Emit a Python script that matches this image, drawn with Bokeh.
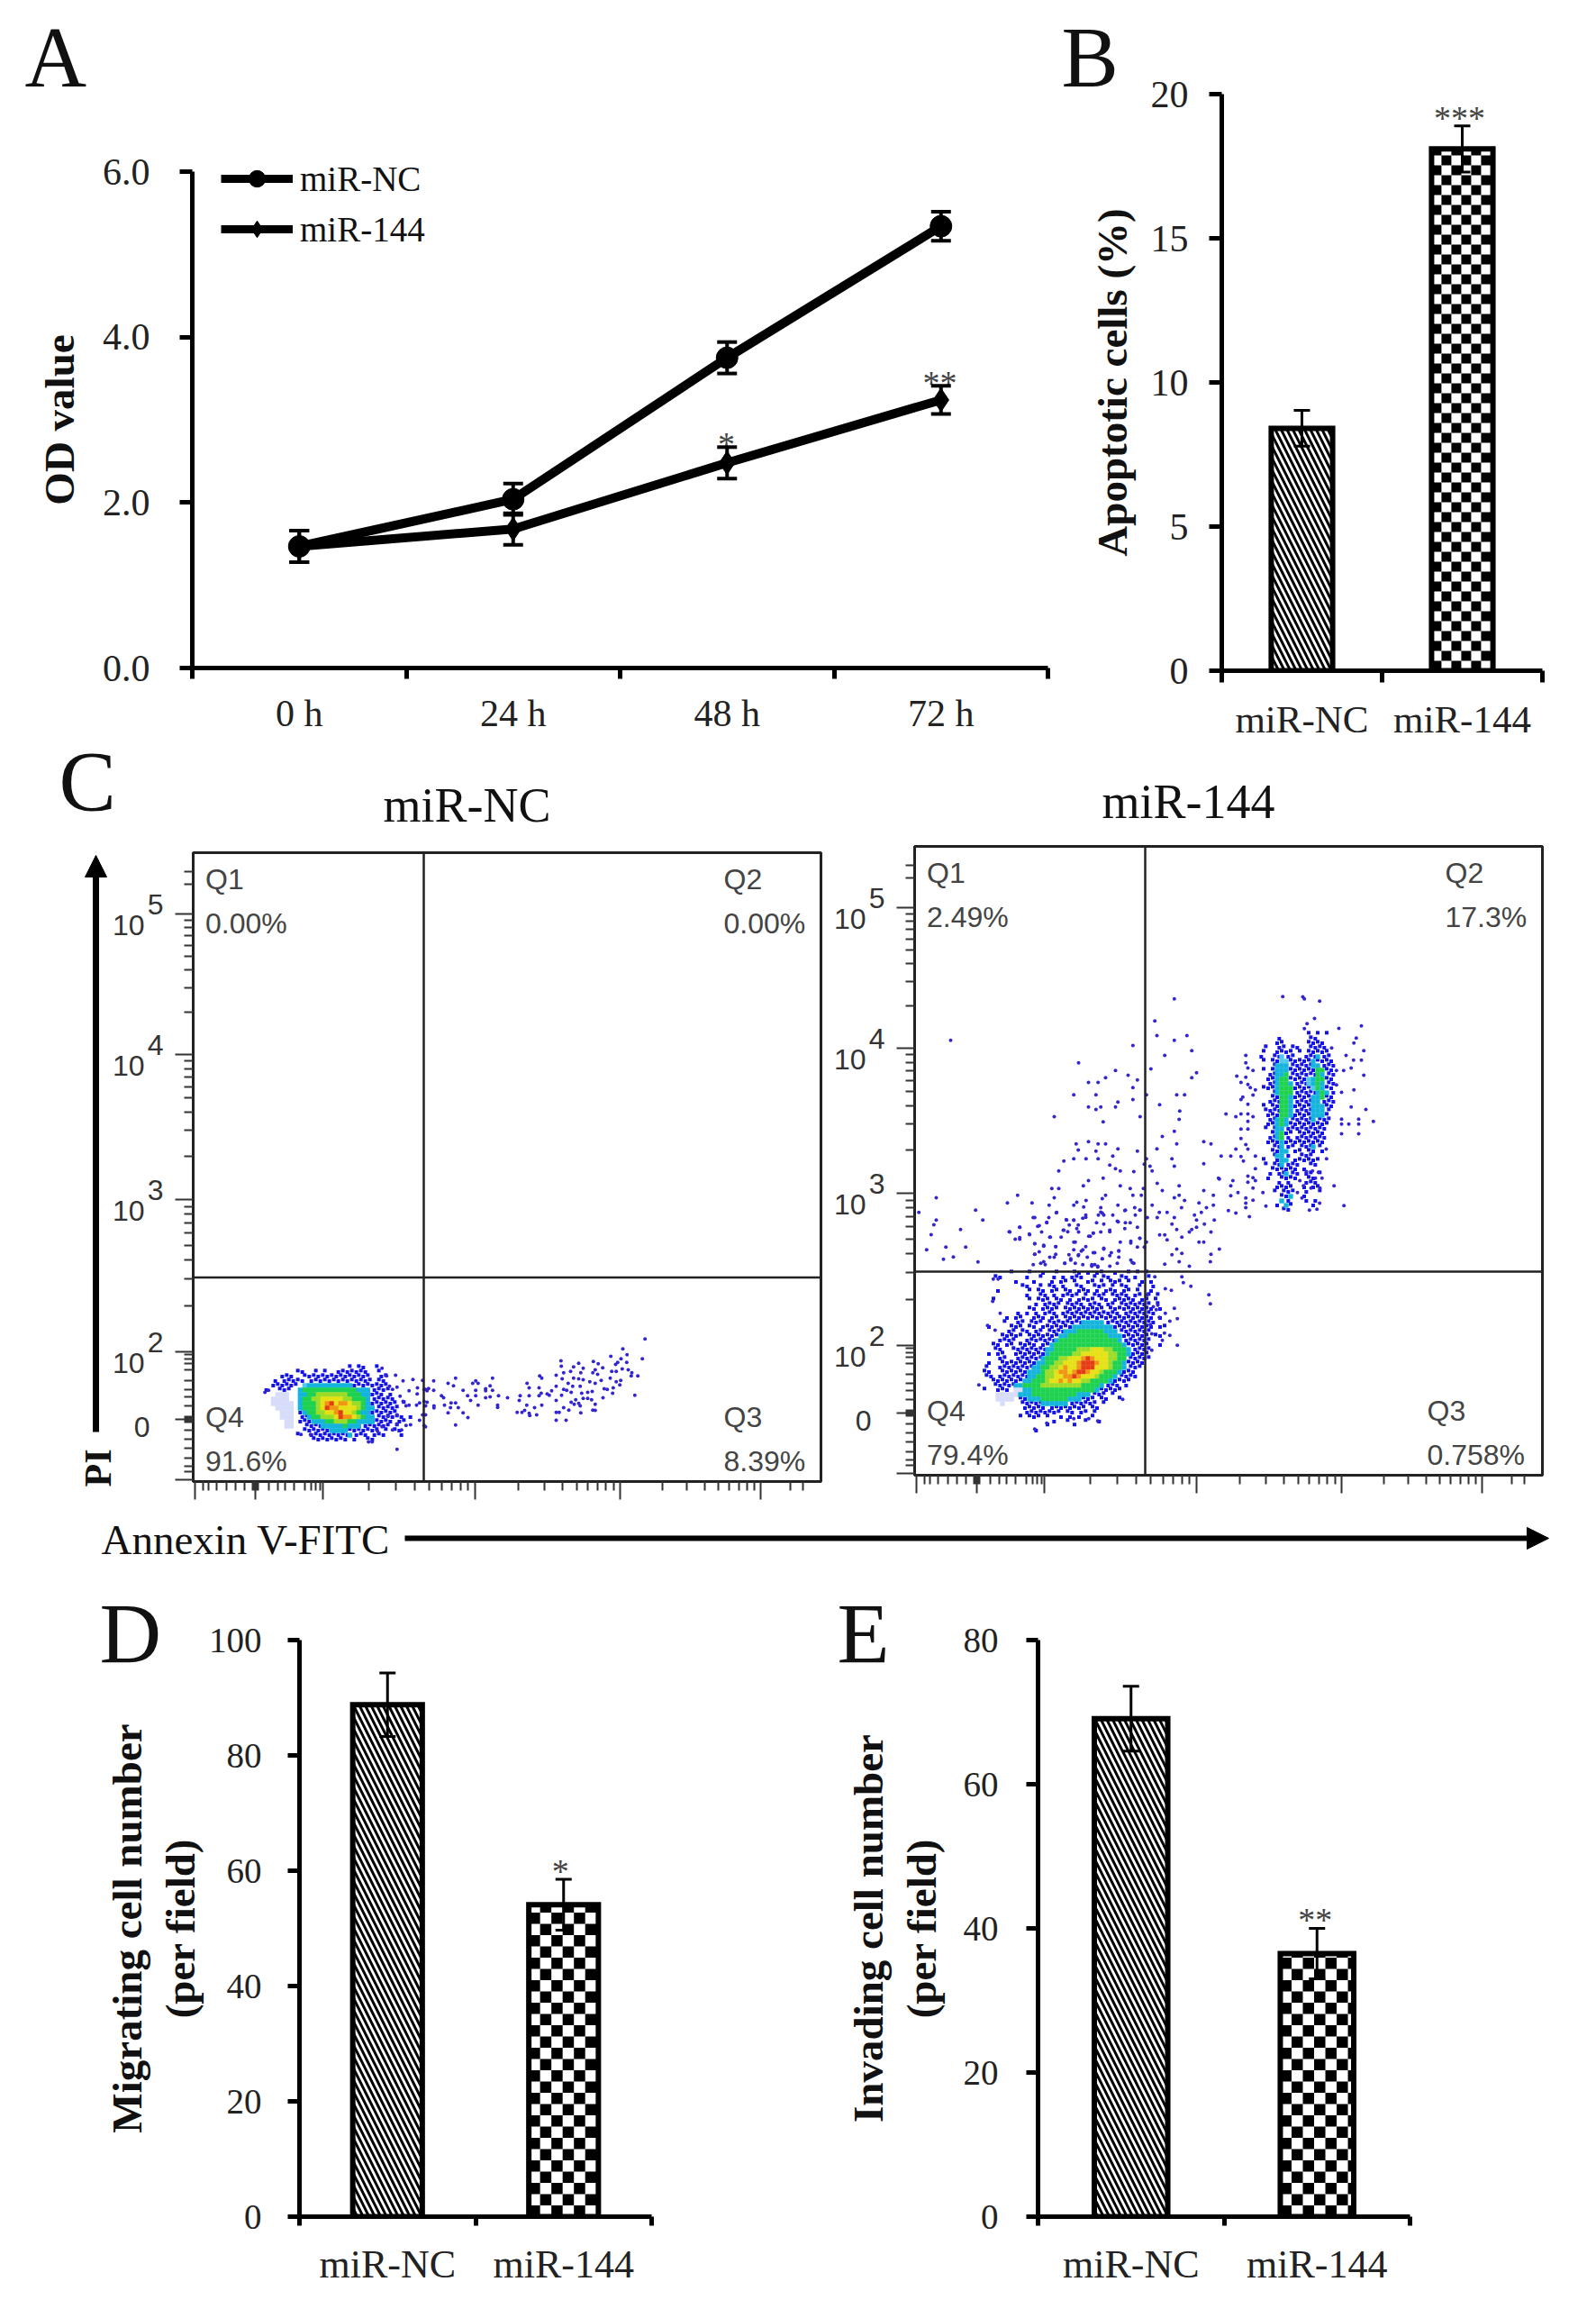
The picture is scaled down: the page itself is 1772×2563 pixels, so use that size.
import numpy as np
from bokeh.embed import file_html
from bokeh.resources import INLINE
from bokeh.layouts import column, row
from bokeh.plotting import figure
from bokeh.models import (Range1d, FixedTicker, Label, Span, Whisker, TeeHead, ColumnDataSource,
                          Legend, LegendItem, Arrow, NormalHead)

# ---------------------------------------------------------------- data
TIMES = ["0 h", "24 h", "48 h", "72 h"]
OD_NC = [1.47, 2.04, 3.75, 5.34]
OD_NC_ERR = [0.19, 0.19, 0.19, 0.175]
OD_144 = [1.47, 1.68, 2.48, 3.24]
OD_144_ERR = [0.19, 0.19, 0.19, 0.17]
OD_TICKS = [0, 2, 4, 6]

GROUPS = ["miR-NC", "miR-144"]
APOP = [8.41, 18.1]
APOP_ERR = [0.62, 0.8]
APOP_TICKS = [0, 5, 10, 15, 20]
MIGR = [88.8, 54.1]
MIGR_ERR = [5.5, 4.4]
MIGR_TICKS = [0, 20, 40, 60, 80, 100]
INVA = [69.1, 36.5]
INVA_ERR = [4.5, 3.5]
INVA_TICKS = [0, 20, 40, 60, 80]

FLOW_MAJOR = [7, 207, 432, 939, 1422, 1890]
FLOW_LOWER = [32, 52, 77, 112, 140, 172, 197, 204, 210, 217, 252, 282, 307, 337, 372, 392, 407, 422]
FLOW_UPPER = [1990, 2030]
Q_NC = ["0.00%", "0.00%", "8.39%", "91.6%"]
Q_144 = ["2.49%", "17.3%", "0.758%", "79.4%"]

# density, one character per 15-channel cell
NC_ORIGIN = (229, 387)
NC_MAP = [
"                   b bb  b    ",
"       bb  b b  bbbbbbb  b    ",
"    bbb  bbbbbbbbbbbbbbb  bb  ",
"  b bbbbb bbbbbbbbbbbbbb bb   ",
"  bbbbbb lccccccccccbbbbbbbb  ",
"b  bbb  cggggggggggggcccbbbb  ",
"   ppp  ccgghhhhhhhgggccbbb b ",
"  pppp  cgghhyyyyyhhgggcbbbbb ",
"  ppppp cggghyoryooyhhgcbbbbbb b",
"   pppp cggghyrooyyyyhgccbbbbb",
"    ppp bcgghhyyoryyhgccbbbbbb",
"    ppp bbcgghhhyrooyhgccbbbbbb b",
"     pp bbbcccgghhhggccccbbbb bb",
"     pp  bbbbcccccgcccbbbbbb b",
"         bbbbbbccccbbbbbbb b bb",
"       b  bbbbbbbbbcbbb bbb   b",
"           bbbbbbbb b  bb  ",
]
B144_ORIGIN = (210, 681)
B144_MAP = [
"       b   b  b  b   bb b bb  b  b b b    ",
"   bb     b  b  b b bbb  b bb  bb b  b    ",
"        b   b   b bb b  bb b bbb b  b b   ",
"         bb  b bb b  bb  bbb b bb  b  b   ",
"    b      b bb bb bb bbb b bbb bb b  b   ",
"          b  bb b bbbb b bbb bbbb bb b b  ",
"   b       b bbb bb b bbbb bb bbbbb bb b  ",
"            b bbbb bbbb bbb bb bbbbbbb b  ",
"           bb bbbb bbbbbbbbb bbbbbbbbbb b ",
"        b b b bbb bbbbbbbbbbbbb bbbbbbb   ",
"      b bb  bbb bb bbbbbbbbbbbbbbbbbbbb b ",
"     b  bb bbb bbbbbbbbcccccbbbbbbbbbbb   ",
"  b    bbb bb bbbbbbbcccccccccbbbbbbbbb bb",
"      bb bb bb bbbbcccggggggcccbbbbbbb    ",
"     bbbbb bbbbbbbccgggggggggcccbbbbbb bb ",
"    bbbb  bbbbbbbcgggggggggggggcbbbbbb    ",
"   bb bb bbbb bbcgggggggggggggggcbbbbb  b ",
"   bb  bbbbbbbbccggggghhhyyyhhgggcbbbb    ",
"  b bb  bbbbbbbcggggghhyyyyyyhhggcbbbb    ",
"    bb  bbbbbbcggghhyyyoroyyyhhggbbbbb    ",
"  b  bbbbbbbbccgghhyyyorrroyyhggcbbbb     ",
" b  bbbbbbbbccgghhyoyyorrryyyhggcbbb      ",
" bb  bbbbbbcccghhyooyorroyyhgggcbbb       ",
" bb bbbbbbbccgghhyyooroyyyhgggcbbbb       ",
"   bbbbbbbccggghyyoyoyyhhggggcbbbb        ",
"   bbbbbccgggghhhhhhhhhggggcbbb b         ",
" b  bbb ppccggggggggggggggcbbbbb          ",
"    pppppcccggggggggggcccbbb b            ",
"    pppp bbcccggggggcccbbb bb  b          ",
"     p   bbbbbccccccbbbbbb b              ",
"          bbbbb bbbbbbbb bb                ",
"          bbbbbbbb bb bb b                 ",
"         b bbb b  b b b  b                 ",
"                b  b   b  b                ",
"               b     b                     ",
"            b                               ",
]
U144_ORIGIN = (1140, 1476)
U144_MAP = [
"           b b b ",
"    b      bb    ",
"    bb     bbbb  ",
" b  bb bb  bbbb  ",
" b  bbbb b bbbbb ",
"b  bblbb  bbbcbb ",
" b bbllbbbbbcbbbb",
"   bcccbbbbbccbbb",
" b bcccbbbbbbggbb",
"  bbccgbbbbbbgcbb",
"  bbcggbbbblcggbb",
"  bbcggcbbblcgcbb",
" bbbcgggbbbblgcbb",
"   bcgggbbbbbcgcb",
"   bbggcbbbbccgbb",
"  bbbggcbbbbccbbb",
" b bbggcbbbbcccbb",
" bbbbggcbbbbcccb ",
"  bbbggcbbbbcccb ",
"  bbcgcbbbbbcbbb ",
"  bbcgcbbbbbbbbb ",
" b bccbbbbbbbbb  ",
"   bcgbb bbbbbb  ",
"  bbcgb bbbbbbb  ",
"  bbbcbbbbbbbbb  ",
"   bbcbb bbbcb   ",
"   bbcc bb bb b  ",
"   bccb  bbb     ",
" b  bcc bbbbbb   ",
" b bbcbbb  bb    ",
"   bbbbbb b      ",
"  b bbcbb bb b   ",
"  b  bbbb  bb    ",
"    b b   bbb    ",
"    bbbb  b bb   ",
"   b bbb  b  b   ",
"     bbc  b      ",
"     cb   b b    ",
"    b cb    b    ",
"     bb          ",
]
DENSITY = {"b": "#1414e6", "c": "#14b4dc", "l": "#50c8f0", "g": "#1ed250", "h": "#9bdc28",
           "y": "#e6e114", "o": "#f09614", "r": "#e63c14", "p": "#d7dcfa"}

# single events (channel units), grouped by region of reading
NC_DOTS_A_ORIGIN = (199, 432)
NC_DOTS_A = [(385,300),(397,300),(480,325),(160,275),(192,275),(40,135),(52,128),(500,97),(533,92),(430,55),(475,78),(445,80),
 (565,95),(455,115),(465,125),(490,148),(480,118),(520,130),(548,120),(547,140),(570,125),(580,130),(500,165),(510,180),(520,178),
 (545,178),(555,170),(570,165),(575,180),(480,210),(450,215),(480,240),(510,245),(525,243),(555,228),(570,245),(565,210),(495,260),
 (465,260),(415,265),(430,250)]
NC_DOTS_B_ORIGIN = (769, 522)
NC_DOTS_B = [(736,47),(662,80),(676,100),(622,105),(727,113),(656,113),(645,125),(564,122),(515,128),(456,120),(457,138),(498,140),
 (580,130),(595,143),(638,132),(675,125),(530,145),(570,150),(488,155),(465,160),(385,170),(392,178),(440,168),(522,160),(562,160),
 (578,165),(625,155),(640,155),(660,147),(680,150),(692,160),(690,170),(712,170),(32,187),(105,178),(228,178),(172,187),(162,195),
 (180,195),(80,195),(98,203),(343,195),(460,180),(498,178),(515,180),(530,183),(552,190),(570,195),(590,185),(620,178),(655,185),
 (640,190),(652,200),(15,212),(32,218),(130,218),(172,218),(205,213),(205,220),(228,218),(220,203),(350,210),(383,210),(440,205),
 (480,195),(495,205),(520,205),(600,213),(610,215),(630,210),(628,228),(390,228),(410,230),(425,220),(465,215),(475,218),(490,225),
 (525,228),(545,225),(560,222),(702,235),(58,236),(145,236),(172,236),(205,243),(220,240),(248,236),(278,243),(320,236),(350,236),
 (383,236),(417,235),(458,235),(596,243),(65,243),(155,252),(317,252),(440,252),(490,258),(505,250),(515,262),(530,245),(545,245),
 (558,250),(90,260),(105,260),(10,258),(180,268),(245,268),(245,275),(33,270),(33,277),(68,268),(88,276),(114,276),(342,268),
 (368,276),(392,268),(465,276),(500,265),(520,270),(570,265),(570,285),(482,284),(522,293),(562,284),(80,293),(130,293),(310,292),
 (326,292),(335,285),(350,295),(352,302),(375,300),(440,292),(450,292),(146,309),(105,334),(440,318),(473,318),(5,300),(5,340),(5,215)]
D144_UP_ORIGIN = (1005, 1641)
D144_UP = [(221,47),(288,48),(293,55),(344,62),(327,120),(302,137),(293,154),(483,145),(408,153),(466,185),(458,202),(491,227),
 (384,218),(432,243),(457,259),(483,259),(449,285),(424,293),(400,293),(491,309),(400,341),(417,366),(458,358),(449,415),(498,423),
 (417,455),(417,472),(441,472),(474,455),(474,472),(523,463),(417,504),(474,504),(366,555),(392,677),(425,743),(367,587),(344,735),
 (98,243),(98,268),(105,285),(122,293),(68,312),(98,316),(82,333),(105,340),(113,350),(130,358),(122,375),(88,382),(82,390),(105,406),
 (32,438),(65,447),(82,438),(105,438),(122,447),(105,463),(82,488),(105,488),(82,520),(98,540),(65,555),(105,555),(16,578),(48,578),
 (82,580),(90,595),(130,578),(130,620),(122,650),(105,645),(105,665),(130,660),(10,655),(55,660),(48,677),(122,685),(48,710),(72,700),
 (98,718),(98,735),(122,725),(98,750),(40,760),(65,768),(110,780),(155,700),(165,745),(270,700),(285,718),(310,758),(335,755),(278,660),
 (290,677),(315,685),(345,685),(330,652),(352,652),(300,630),(320,628),(340,632)]
D144_MID_ORIGIN = (0, 1641)
D144_MID = [(120,193),(865,55),(800,128),(807,177),(865,193),(907,177),(727,210),(923,227),(833,243),(546,268),(787,288),(669,293),
 (939,301),(923,317),(711,309),(636,317),(742,325),(579,333),(611,333),(727,350),(530,374),(604,374),(772,374),(873,374),(899,374),
 (727,390),(677,398),(816,407),(579,415),(620,415),(669,415),(604,423),(883,428),(465,447),(751,447),(881,456),(628,464),(865,496),
 (825,513),(538,538),(579,530),(611,538),(636,538),(873,538),(963,530),(987,538),(677,554),(545,558),(807,554),(742,562),(604,562),
 (660,578),(497,595),(530,587),(571,587),(611,587),(772,587),(857,587),(765,605),(650,608),(669,620),(685,628),(784,612),(865,612),
 (963,604),(480,628),(730,630),(791,628),(628,652),(579,660),(562,677),(685,677),(808,669),(881,677),(1012,652),(457,686),(480,686),
 (718,686),(762,686),(825,693),(963,693),(343,709),(636,709),(727,709),(755,709),(865,717),(881,709),(995,709),(72,717),(465,717),
 (625,720),(571,726),(899,726),(309,734),(391,734),(540,732),(947,734),(448,742),(530,742),(563,748),(677,742),(791,742),(995,742),
 (889,750),(972,750),(620,750),(733,750),(203,758),(702,758),(751,758),(14,766),(473,766),(625,768),(815,766),(841,766),(955,766),
 (932,775),(660,775),(570,782),(735,775),(400,783),(447,783),(612,775),(808,783),(865,783),(72,791),(227,791),(506,791),(530,791),
 (678,797),(702,800),(718,800),(775,783),(939,791),(998,791),(440,799),(606,800),(630,805),(857,805),(965,805),(64,807),(350,815),
 (410,812),(515,808),(545,808),(650,825),(742,815),(939,815),(923,823),(153,823),(317,831),(423,831),(497,825),(546,831),(595,835),
 (620,831),(873,823),(987,831),(915,831),(383,840),(816,841),(833,841),(55,840),(452,848),(488,848),(580,845),(750,852),(890,848),
 (350,855),(841,857),(400,870),(535,865),(685,865),(720,868),(772,865),(947,865),(963,865),(430,878),(470,880),(40,890),(104,881),
 (170,881),(742,881),(765,881),(1015,888),(560,890),(630,888),(873,888),(680,893),(890,902),(415,897),(530,890),(600,900),(655,900),
 (400,905),(514,907),(546,907),(857,907),(987,905),(96,922),(129,914),(211,931),(430,930),(465,915),(500,935),(520,925),(625,920),
 (680,915),(725,933),(881,930),(985,930),(833,938),(915,945),(600,940),(590,945),(610,948)]
D144_LOW_ORIGIN = (210, 891)
D144_LOW = [(590,230),(680,230),(685,250),(625,270),(645,275),(710,262),(770,290),(775,320),(565,290),(600,325),(655,335),(625,352),
 (640,378),(665,370),(605,365),(580,420),(622,418),(640,425),(615,442),(665,458),(580,475),(575,390),(595,340),(585,330),(33,392),
 (58,408),(75,352),(50,312),(52,238),(68,238),(4,590),(190,737),(230,718),(400,710),(370,703),(483,638),(320,703),(185,33),(230,50),
 (262,17),(295,40),(320,42),(350,35),(360,25),(410,15),(420,25),(140,65),(105,80),(172,88),(205,60),(240,98),(285,75),(300,80),(330,70),
 (385,85),(375,95),(440,80),(465,45),(490,10),(540,8),(490,70),(510,112),(540,102),(190,120),(220,125),(260,130),(320,115),(345,145),
 (360,130),(385,150),(420,135),(440,160),(470,145),(510,175),(520,185),(380,190),(400,195),(210,185),(240,165),(260,155),(290,185),
 (310,170),(325,185),(350,190),(440,195),(465,185),(190,155),(140,100),(125,105),(185,190),(225,190),(335,160),(365,165),(415,170)]
D144_PLAIN = [(1291,652),(1329,627),(1329,609),(1431,606),(1291,570),(1431,522),(1481,514),(1495,531),(1206,408),(1052,858),(1076,833),
 (1109,833),(1068,781),(1100,781),(1190,807),(1215,764),(1247,772),(1275,772),(1337,776),(1019,738),(1035,712),(1084,695),(1141,686),
 (1190,695),(1166,738)]

SERIF = "Liberation Serif"
SANS = "Liberation Sans"
INK = "#111111"
PAGE_W, PAGE_H = 1770, 2560

# transparent sheet over the whole page, in page coordinates, for everything outside the plot frames
sheet = figure(width=PAGE_W, height=PAGE_H, output_backend="svg", toolbar_location=None,
               x_range=Range1d(0, PAGE_W), y_range=Range1d(PAGE_H, 0), min_border=0,
               outline_line_color=None, background_fill_color=None, border_fill_color=None,
               x_axis_location=None, y_axis_location=None, margin=(-PAGE_H, 0, 0, 0))
sheet.grid.visible = False


def note(rx, ry, text, size, font=SERIF, style="normal", align="left", base="middle", color=INK, angle=0):
    sheet.add_layout(Label(x=rx, y=ry, text=text, text_font=font, text_font_size=f"{size}px", text_font_style=style,
                           text_align=align, text_baseline=base, text_color=color, angle=angle))


def place(p, geo, rx, ry, text, size, font=SERIF, align="left", color=INK):
    """Annotation inside a plot frame, in the plot's own data units."""
    L, R, T, B = geo
    xr, yr = p.x_range, p.y_range
    x = xr.start + (rx - L) / (R - L) * (xr.end - xr.start)
    y = yr.start + (B - ry) / (B - T) * (yr.end - yr.start)
    p.add_layout(Label(x=x, y=y, text=text, text_font=font, text_font_size=f"{size}px",
                       text_align=align, text_baseline="middle", text_color=color))


def base_fig(page_box, frame, xr, yr):
    x0, y0, x1, y1 = page_box
    L, R, T, B = frame
    p = figure(width=x1 - x0, height=y1 - y0, output_backend="svg", toolbar_location=None,
               x_range=Range1d(*xr), y_range=Range1d(*yr),
               min_border_left=round(L - x0), min_border_right=round(x1 - R),
               min_border_top=round(T - y0), min_border_bottom=round(y1 - B),
               outline_line_color=None, background_fill_color="white", border_fill_color="white")
    p.grid.visible = False
    return p


def style_y(p, ticks, labels, size, standoff, title, tsize, tstand, tick=14, width=5):
    ax = p.yaxis[0]
    ax.ticker = FixedTicker(ticks=ticks)
    ax.major_label_overrides = dict(zip(ticks, labels))
    ax.major_label_text_font = SERIF
    ax.major_label_text_font_size = f"{size}px"
    ax.major_label_text_color = "#222222"
    ax.major_label_standoff = standoff
    ax.major_tick_in = 0
    ax.major_tick_out = tick
    ax.major_tick_line_width = width
    ax.major_tick_line_color = "black"
    ax.minor_tick_line_color = None
    ax.axis_line_width = width
    ax.axis_line_color = "black"
    ax.axis_label = title
    ax.axis_label_text_font = SERIF
    ax.axis_label_text_font_style = "bold"
    ax.axis_label_text_font_size = f"{tsize}px"
    ax.axis_label_text_color = INK
    ax.axis_label_text_line_height = 1.13
    ax.axis_label_standoff = tstand


def style_x_bands(p, labels, size, standoff, tick=12, width=5):
    ax = p.xaxis[0]
    n = len(labels)
    centers = [i + 0.5 for i in range(n)]
    ax.ticker = FixedTicker(ticks=centers, minor_ticks=list(range(n + 1)))
    ax.major_label_overrides = dict(zip(centers, labels))
    ax.major_label_text_font = SERIF
    ax.major_label_text_font_size = f"{size}px"
    ax.major_label_text_color = "#222222"
    ax.major_label_standoff = standoff
    ax.major_tick_in = 0
    ax.major_tick_out = 0
    ax.major_tick_line_color = None
    ax.minor_tick_in = 0
    ax.minor_tick_out = tick
    ax.minor_tick_line_width = width
    ax.minor_tick_line_color = "black"
    ax.axis_line_width = width
    ax.axis_line_color = "black"


def whisker(p, xs, ys, errs, cap=18, width=3):
    src = ColumnDataSource(dict(x=xs, up=[a + b for a, b in zip(ys, errs)], lo=[a - b for a, b in zip(ys, errs)]))
    p.add_layout(Whisker(source=src, base="x", upper="up", lower="lo", line_width=width, line_color="black",
                         upper_head=TeeHead(size=cap, line_width=width, line_color="black"),
                         lower_head=TeeHead(size=cap, line_width=width, line_color="black"), level="overlay"))


def bars(p, geo, values, errs, bw, cell, stroke=6):
    L, R, T, B = geo
    xs = [0.5, 1.5]
    ux = (p.x_range.end - p.x_range.start) / (R - L)
    uy = (p.y_range.end - p.y_range.start) / (B - T)
    p.vbar(x=[xs[0]], top=[values[0]], width=bw, bottom=0, fill_color="white", line_color=None,
           hatch_pattern="left_diagonal_line", hatch_color="black", hatch_scale=13, hatch_weight=3)
    lefts, rights, bots, tops = [], [], [], []
    x0, x1 = xs[1] - bw / 2, xs[1] + bw / 2
    cw, ch = cell * ux, cell * uy
    nx = int(np.ceil((x1 - x0) / cw))
    ny = int(np.ceil(values[1] / ch))
    p.vbar(x=[xs[1]], top=[values[1]], width=bw, bottom=0, fill_color="white", line_color=None)
    for i in range(nx):
        for j in range(ny):
            if (i + j) % 2 == 0:
                lefts.append(x0 + i * cw)
                rights.append(min(x0 + (i + 1) * cw, x1))
                bots.append(j * ch)
                tops.append(min((j + 1) * ch, values[1]))
    p.quad(left=lefts, right=rights, bottom=bots, top=tops, fill_color="black", line_color=None)
    p.vbar(x=xs, top=values, width=bw, bottom=0, fill_color=None, line_color="black", line_width=stroke,
           line_join="miter")
    whisker(p, xs, values, errs)


def cells(rows, origin):
    x0, y0 = origin
    xs, ys, cols, sizes = [], [], [], []
    for j, r in enumerate(rows):
        for i, ch in enumerate(r):
            if ch != " ":
                blue = ch == "b"
                xs.append(x0 + 15 * i + 7.5 + (7 if blue and j % 2 else 0))
                ys.append(y0 - 15 * j - 7.5 + (5 if blue and i % 2 else 0))
                cols.append(DENSITY[ch])
                sizes.append(12 if blue else 16)
    return xs, ys, cols, sizes


def dots(points, origin):
    return [origin[0] + a for a, b in points], [origin[1] - b for a, b in points]


def flow(page_box, frame, maps, dot_sets, vline, hline, qtexts, q3x):
    p = base_fig(page_box, frame, (0, 2091), (0, 2094))
    p.outline_line_color = "#222222"
    p.outline_line_width = 3
    L, R, T, B = frame
    minor = list(FLOW_LOWER) + FLOW_UPPER
    for lo, hi in zip(FLOW_MAJOR[2:], FLOW_MAJOR[3:]):
        minor += [lo + (hi - lo) * np.log10(k) for k in range(2, 10)]
    for ax in (p.xaxis[0], p.yaxis[0]):
        ax.ticker = FixedTicker(ticks=FLOW_MAJOR, minor_ticks=minor)
        ax.major_label_text_color = None
        ax.major_label_text_font_size = "1px"
        ax.major_tick_in = 0
        ax.major_tick_out = 20
        ax.minor_tick_in = 0
        ax.minor_tick_out = 10
        ax.major_tick_line_width = 2
        ax.minor_tick_line_width = 2
        ax.major_tick_line_color = "#333333"
        ax.minor_tick_line_color = "#333333"
        ax.axis_line_width = 3
        ax.axis_line_color = "#222222"
    for rows, origin in maps:
        xs, ys, cols, sizes = cells(rows, origin)
        # blue cells first so the dense colours stay on top
        order = sorted(range(len(xs)), key=lambda k: cols[k] != DENSITY["b"])
        p.rect(x=[xs[k] for k in order], y=[ys[k] for k in order], width=[sizes[k] for k in order],
               height=[sizes[k] for k in order], fill_color=[cols[k] for k in order], line_color=None)
    for pts, origin in dot_sets:
        xs, ys = dots(pts, origin)
        p.scatter(x=xs, y=ys, size=4, marker="circle", fill_color="#3326d0", line_color=None)
    p.add_layout(Span(location=vline, dimension="height", line_color="#222222", line_width=2.5))
    p.add_layout(Span(location=hline, dimension="width", line_color="#222222", line_width=2.5))
    qx_l, qx_r = L + 13.5, L + 589
    for rx, ry, t in [(qx_l, T + 29, "Q1"), (qx_l, T + 78, qtexts[0]), (qx_r, T + 29, "Q2"), (qx_r, T + 78, qtexts[1]),
                      (q3x, B - 72, "Q3"), (q3x, B - 23, qtexts[2]), (qx_l, B - 72, "Q4"), (qx_l, B - 23, qtexts[3])]:
        place(p, frame, rx, ry, t, 32, SANS, color="#444444")
    for val, exp in zip(FLOW_MAJOR[2:], ["2", "3", "4", "5"]):
        ry = B - val / 3
        note(L - 54, ry + 12, "10", 32, SANS, align="right", color="#333333")
        note(L - 33, ry - 11, exp, 32, SANS, align="right", color="#333333")
    note(L - 48, B - FLOW_MAJOR[1] / 3 + 8, "0", 32, SANS, align="right", color="#333333")
    return p


# ---------------------------------------------------------------- A
GA = (213, 1163, 190, 741)
pa = base_fig((0, 0, 1180, 830), GA, (0, 4), (0, 6))
style_y(pa, OD_TICKS, [f"{v:.1f}" for v in OD_TICKS], 42, 33, "OD value", 47, 19)
style_x_bands(pa, TIMES, 42, 15)
xa = [0.5, 1.5, 2.5, 3.5]
whisker(pa, xa, OD_NC, OD_NC_ERR, cap=22, width=4)
whisker(pa, xa, OD_144, OD_144_ERR, cap=22, width=4)
pa.line(xa, OD_NC, line_color="black", line_width=10)
pa.scatter(xa, OD_NC, marker="circle", size=24, fill_color="black", line_color="black")
pa.line(xa, OD_144, line_color="black", line_width=10)
pa.scatter(xa, OD_144, marker="diamond", size=26, fill_color="black", line_color="black")
# legend keys take their look from these renderers; their points lie off the sheet
l1 = sheet.line([-50, -40], [-50, -50], line_color="black", line_width=9)
m1 = sheet.scatter([-50], [-50], marker="circle", size=24, fill_color="black", line_color="black")
l2 = sheet.line([-50, -40], [-50, -50], line_color="black", line_width=9)
m2 = sheet.scatter([-50], [-50], marker="diamond", size=26, fill_color="black", line_color="black")
sheet.add_layout(Legend(items=[LegendItem(label=GROUPS[0], renderers=[l1, m1]), LegendItem(label=GROUPS[1], renderers=[l2, m2])],
                        location=(245, PAGE_H - 277), orientation="vertical", glyph_width=80, glyph_height=46, spacing=10,
                        padding=0, margin=0, label_standoff=8, label_text_font=SERIF, label_text_font_size="39px",
                        label_text_color=INK, background_fill_alpha=0, border_line_color=None, label_height=46))
note(27, 63, "A", 95)
place(pa, GA, 806, 492, "*", 38, align="center", color="#444444")
place(pa, GA, 1043, 424, "**", 38, align="center", color="#444444")

# ---------------------------------------------------------------- B
GB = (1356, 1712, 104, 744)
pb = base_fig((1180, 0, PAGE_W, 830), GB, (0, 2), (0, 20))
style_y(pb, APOP_TICKS, [str(v) for v in APOP_TICKS], 42, 23, "Apoptotic cells (%)", 47, 14)
style_x_bands(pb, GROUPS, 43, 17, tick=13)
bars(pb, GB, APOP, APOP_ERR, 0.383, 11)
note(1178, 63, "B", 95)
place(pb, GB, 1620, 130, "***", 38, align="center", color="#444444")

# ---------------------------------------------------------------- C
G_NC = (214, 911, 946, 1644)
G_144 = (1015, 1712, 939, 1637)
pc1 = flow((0, 830, 920, 1740), G_NC, [(NC_MAP, NC_ORIGIN)], [(NC_DOTS_A, NC_DOTS_A_ORIGIN), (NC_DOTS_B, NC_DOTS_B_ORIGIN)],
           (470 - 214) * 3, (1644 - 1417.5) * 3, Q_NC, 214 + 589)
pc2 = flow((920, 830, PAGE_W, 1740), G_144, [(B144_MAP, B144_ORIGIN), (U144_MAP, U144_ORIGIN)],
           [(D144_UP, D144_UP_ORIGIN), (D144_MID, D144_MID_ORIGIN), (D144_LOW, D144_LOW_ORIGIN), (D144_PLAIN, (0, 0))],
           (1271 - 1015) * 3, (1637 - 1411) * 3, Q_144, 1584)
sheet.add_layout(Arrow(end=NormalHead(size=24, fill_color="black", line_color="black"), x_start=106, y_start=1589,
                       x_end=106, y_end=949, line_color="black", line_width=7))
sheet.add_layout(Arrow(end=NormalHead(size=24, fill_color="black", line_color="black"), x_start=449, y_start=1707,
                       x_end=1719, y_end=1707, line_color="black", line_width=6))
note(65, 867, "C", 95)
note(518, 893, GROUPS[0], 54, align="center")
note(1319, 889, GROUPS[1], 54, align="center")
note(108, 1629, "PI", 42, style="bold", align="center", angle=np.pi / 2)
note(112, 1708, "Annexin V-FITC", 47)

# ---------------------------------------------------------------- D
GD = (332.5, 723, 1820, 2460)
pd_ = base_fig((0, 1740, 900, PAGE_H), GD, (0, 2), (0, 100))
style_y(pd_, MIGR_TICKS, [str(v) for v in MIGR_TICKS], 39, 29, "Migrating cell number\n(per field)", 47, 3, tick=13)
style_x_bands(pd_, GROUPS, 44, 18, tick=10)
bars(pd_, GD, MIGR, MIGR_ERR, 0.395, 12.5)
note(110, 1813, "D", 95)
place(pd_, GD, 622, 2076, "*", 38, align="center", color="#444444")

# ---------------------------------------------------------------- E
GE = (1152.5, 1565, 1820, 2460)
pe = base_fig((900, 1740, PAGE_W, PAGE_H), GE, (0, 2), (0, 80))
style_y(pe, INVA_TICKS, [str(v) for v in INVA_TICKS], 39, 31, "Invading cell number\n(per field)", 47, 18, tick=13)
style_x_bands(pe, GROUPS, 44, 18, tick=10)
bars(pe, GE, INVA, INVA_ERR, 0.395, 12.5)
note(929, 1813, "E", 95)
place(pe, GE, 1460, 2130, "**", 38, align="center", color="#444444")

page = column(row(column(pa), column(pb), spacing=0), row(column(pc1), column(pc2), spacing=0),
              row(column(pd_), column(pe), spacing=0), sheet, spacing=0)
open("out.html", "w").write(file_html(page, INLINE))
